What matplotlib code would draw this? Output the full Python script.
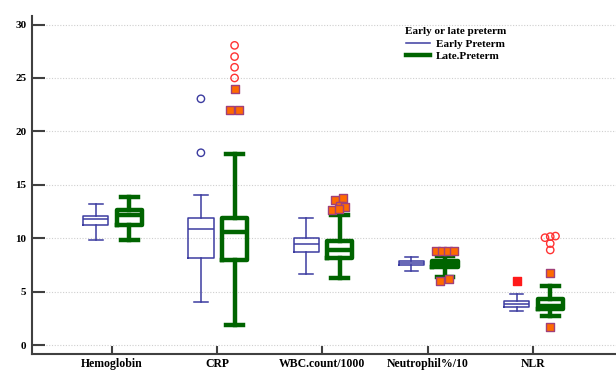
import matplotlib
matplotlib.use("Agg")
import matplotlib.pyplot as plt
from matplotlib.lines import Line2D

categories = ["Hemoglobin", "CRP", "WBC.count/1000", "Neutrophil%/10", "NLR"]
series_names = ["Early Preterm", "Late.Preterm"]

# Early preterm box statistics
early_whislo = [9.8, 4.0, 6.65, 6.9, 3.2]
early_q1 = [11.2, 8.15, 8.7, 7.47, 3.6]
early_med = [11.8, 10.9, 9.47, 7.7, 3.87]
early_q3 = [12.1, 11.9, 10.05, 7.87, 4.15]
early_whishi = [13.2, 14.0, 11.85, 8.25, 4.8]

# Late preterm box statistics
late_whislo = [9.85, 1.9, 6.25, 6.4, 2.7]
late_q1 = [11.2, 7.97, 8.15, 7.3, 3.4]
late_med = [12.15, 10.55, 8.9, 7.53, 3.7]
late_q3 = [12.6, 11.87, 9.7, 7.85, 4.35]
late_whishi = [13.9, 17.9, 12.15, 8.35, 5.55]

# Outliers: (category index, value)
early_out_circles = [(1, 18.0), (1, 23.05)]
early_out_squares = [(4, 6.0)]
late_out_circles = [(1, 28.05), (1, 27.0), (1, 26.0), (1, 25.0),
                    (4, 10.05), (4, 10.15), (4, 10.2), (4, 9.5), (4, 8.9)]
late_out_squares = [(1, 24.0), (1, 22.0), (1, 22.0),
                    (2, 13.6), (2, 13.75), (2, 13.05), (2, 12.9), (2, 12.65), (2, 12.7),
                    (3, 8.85), (3, 8.85), (3, 8.85), (3, 8.85), (3, 5.95), (3, 6.2),
                    (4, 6.7), (4, 1.7)]
# small horizontal jitter of overlapping outliers (display only)
late_circle_jitter = [0, 0, 0, 0, -0.05, 0, 0.05, 0, 0]
late_square_jitter = [0, -0.04, 0.04,
                      -0.05, 0.03, 0, 0.05, -0.07, -0.01,
                      -0.09, -0.03, 0.03, 0.09, -0.05, 0.04,
                      0, 0]

yticks = [0, 5, 10, 15, 20, 25, 30]

BLUE = "#3c3ca0"
GREEN = "#006400"
ORANGE = "#ff6a00"
SQEDGE = "#a0407a"
RED = "#ff3333"
SERIF = "Liberation Serif"

fig = plt.figure(figsize=(6.16, 3.72), dpi=100)
ax = fig.add_axes([0.052, 0.048, 0.948, 0.909])

pos = list(range(1, len(categories) + 1))
early_pos = [p - 0.155 for p in pos]
late_pos = [p + 0.165 for p in pos]

def stats(lo, q1, med, q3, hi):
    return [dict(whislo=a, q1=b, med=c, q3=d, whishi=e, fliers=[])
            for a, b, c, d, e in zip(lo, q1, med, q3, hi)]

ax.bxp(stats(early_whislo, early_q1, early_med, early_q3, early_whishi),
       positions=early_pos, widths=0.24, capwidths=0.13, showfliers=False,
       boxprops=dict(color=BLUE, lw=1.1), medianprops=dict(color=BLUE, lw=1.1),
       whiskerprops=dict(color=BLUE, lw=1.1), capprops=dict(color=BLUE, lw=1.1),
       manage_ticks=False)
ax.bxp(stats(late_whislo, late_q1, late_med, late_q3, late_whishi),
       positions=late_pos, widths=0.24, capwidths=0.16, showfliers=False,
       boxprops=dict(color=GREEN, lw=3.2), medianprops=dict(color=GREEN, lw=3.2),
       whiskerprops=dict(color=GREEN, lw=3.2), capprops=dict(color=GREEN, lw=3.2),
       manage_ticks=False)

# outliers
ax.scatter([early_pos[i] for i, v in early_out_circles], [v for i, v in early_out_circles],
           s=28, facecolors="none", edgecolors=BLUE, linewidths=1.0, zorder=4)
ax.scatter([early_pos[i] for i, v in early_out_squares], [v for i, v in early_out_squares],
           s=38, marker="s", color="#ff1a1a", zorder=4)
ax.scatter([late_pos[i] + j for (i, v), j in zip(late_out_circles, late_circle_jitter)],
           [v for i, v in late_out_circles],
           s=28, facecolors="none", edgecolors=RED, linewidths=1.0, zorder=4)
ax.scatter([late_pos[i] + j for (i, v), j in zip(late_out_squares, late_square_jitter)],
           [v for i, v in late_out_squares],
           s=38, marker="s", facecolors=ORANGE, edgecolors=SQEDGE, linewidths=1.0, zorder=4)

ax.set_xlim(0.24, 5.79)
ax.set_ylim(-0.85, 30.8)
ax.set_yticks(yticks)
ax.set_yticklabels([str(t) for t in yticks], fontfamily=SERIF, fontweight="bold", fontsize=8)
ax.set_xticks(pos)
ax.set_xticklabels(categories, fontfamily=SERIF, fontweight="bold", fontsize=8.5)
ax.tick_params(axis="y", direction="in", length=9, width=1.5, color="#404040", pad=4)
ax.tick_params(axis="x", direction="in", length=6, width=1.5, color="#404040", pad=2.5)
ax.yaxis.grid(True, linestyle=(0, (1, 1.5)), color="#cfcfcf", lw=0.8)
ax.set_axisbelow(True)
for s in ["top", "right"]:
    ax.spines[s].set_visible(False)
for s in ["left", "bottom"]:
    ax.spines[s].set_color("#404040")
    ax.spines[s].set_linewidth(1.5)

handles = [Line2D([], [], color=BLUE, lw=1.1), Line2D([], [], color=GREEN, lw=3.2)]
leg = ax.legend(handles, series_names, title="Early or late preterm", frameon=False,
                loc="upper left", bbox_to_anchor=(0.625, 0.99),
                prop=dict(family=SERIF, weight="bold", size=8),
                handlelength=2.2, handletextpad=0.5, labelspacing=0.25, borderpad=0.2)
leg.get_title().set_fontfamily(SERIF)
leg.get_title().set_fontweight("bold")
leg.get_title().set_fontsize(8)

fig.savefig("out.png", dpi=100)
